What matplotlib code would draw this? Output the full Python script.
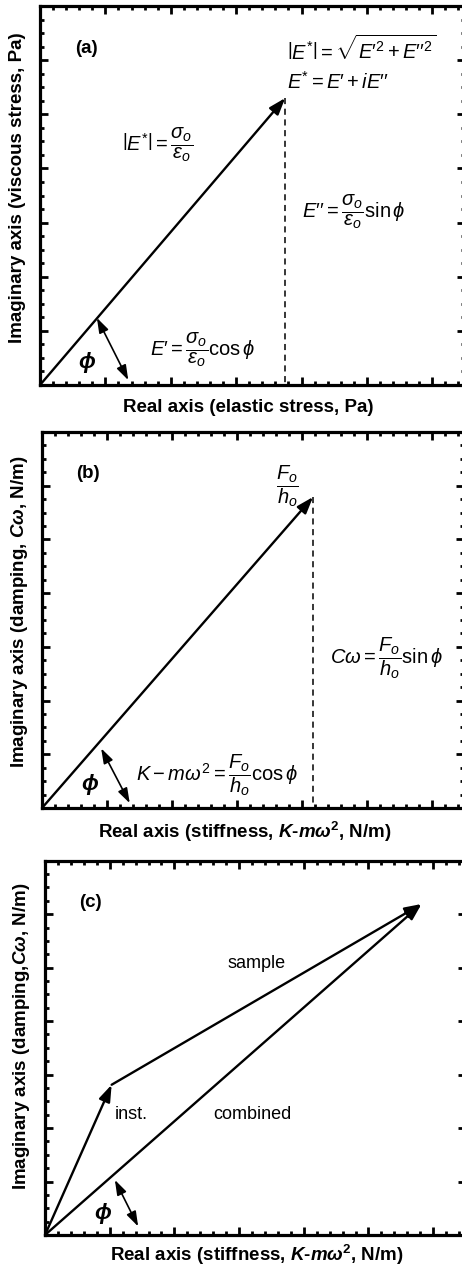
import numpy as np
import matplotlib
matplotlib.use('Agg')
import matplotlib.pyplot as plt
from matplotlib.ticker import MultipleLocator

plt.rcParams['font.family'] = ['Liberation Sans', 'DejaVu Sans']
plt.rcParams['mathtext.fontset'] = 'custom'
plt.rcParams['mathtext.rm'] = 'Liberation Sans'
plt.rcParams['mathtext.it'] = 'Liberation Sans:italic'
plt.rcParams['mathtext.bf'] = 'Liberation Sans:bold'
plt.rcParams['mathtext.bfit'] = 'Liberation Sans:bold:italic'

# vector end points (real, imaginary)
modulus_a = [3.75, 5.30]
force_b = [4.17, 5.79]
inst_c = [1.03, 2.81]
total_c = [5.82, 6.19]

# phase angle markers (start, end)
phi_a = [[0.87, 1.24], [1.35, 0.09]]
phi_b = [[0.91, 1.11], [1.35, 0.09]]
phi_c = [[1.08, 1.03], [1.44, 0.16]]

panel_labels = ['(a)', '(b)', '(c)']
xlabels = ['Real axis (elastic stress, Pa)',
           r'Real axis (stiffness, $\mathbfit{K}$-$\mathbfit{m\omega}^{\mathbf{2}}$, N/m)',
           r'Real axis (stiffness, $\mathbfit{K}$-$\mathbfit{m\omega}^{\mathbf{2}}$, N/m)']
ylabels = ['Imaginary axis (viscous stress, Pa)',
           r'Imaginary axis (damping, $\mathbfit{C\omega}$, N/m)',
           r'Imaginary axis (damping,$\mathbfit{C\omega}$, N/m)']

W, H = 462, 1268
fig = plt.figure(figsize=(W / 100, H / 100), dpi=100)

# axes boxes in pixels: left, top, right, bottom
boxes = [(40, 6, 465, 385), (42, 432, 464.5, 808), (45, 860.7, 465.5, 1235)]
xlab_pos = [(248, 408), (245, 831.7), (257, 1255)]
ylab_pos = [(18, 187.5), (20, 611.5), (22, 1036)]

axes = []
for i, (l, t, r, b) in enumerate(boxes):
    ax = fig.add_axes([l / W, 1 - b / H, (r - l) / W, (b - t) / H])
    ax.set_xlim(0, 6.5)
    ax.set_ylim(0, 7)
    ax.xaxis.set_major_locator(MultipleLocator(1))
    ax.xaxis.set_minor_locator(MultipleLocator(0.2))
    ax.yaxis.set_major_locator(MultipleLocator(1))
    ax.yaxis.set_minor_locator(MultipleLocator(0.25))
    ax.tick_params(which='both', direction='in', top=True, right=True,
                   labelbottom=False, labelleft=False, width=2.0)
    ax.tick_params(which='major', length=5.5)
    ax.tick_params(which='minor', length=3.2)
    for s in ax.spines.values():
        s.set_linewidth(2.3)
    ax.text(0.53, 6.22, panel_labels[i], fontsize=13.5, fontweight='bold', va='center')
    fig.text(xlab_pos[i][0] / W, 1 - xlab_pos[i][1] / H, xlabels[i],
             fontsize=13.5, fontweight='bold', ha='center', va='center')
    fig.text(ylab_pos[i][0] / W, 1 - ylab_pos[i][1] / H, ylabels[i],
             fontsize=13.5, fontweight='bold', ha='center', va='center', rotation=90)
    axes.append(ax)


def vec(ax, start, end):
    ax.annotate('', xy=end, xytext=start,
                arrowprops=dict(arrowstyle='-|>,head_length=1.0,head_width=0.35',
                                mutation_scale=10, lw=1.7, color='k',
                                shrinkA=0, shrinkB=0))


def phi_marker(ax, pts, phi_xy):
    ax.annotate('', xy=pts[1], xytext=pts[0],
                arrowprops=dict(arrowstyle='<|-|>,head_length=0.9,head_width=0.3',
                                mutation_scale=10, lw=1.2, color='k',
                                shrinkA=0, shrinkB=0))
    ax.text(phi_xy[0], phi_xy[1], r'$\mathbfit{\phi}$', fontsize=16,
            ha='center', va='center')


FS = 14.5

# (a) complex modulus
ax = axes[0]
vec(ax, (0, 0), modulus_a)
ax.plot([modulus_a[0], modulus_a[0]], [modulus_a[1], 0], 'k', lw=1.1, ls=(0, (4, 3)))
phi_marker(ax, phi_a, (0.72, 0.42))
ax.text(3.78, 6.2, r'$\left|E^{*}\right| = \sqrt{E{\prime}^{2} + E{\prime\prime}^{2}}$',
        fontsize=FS, va='center')
ax.text(3.78, 5.6, r'$E^{*} = E{\prime} + iE{\prime\prime}$', fontsize=FS, va='center')
ax.text(1.25, 4.45, r'$\left|E^{*}\right| = \dfrac{\sigma_o}{\varepsilon_o}$',
        fontsize=FS, va='center')
ax.text(4.0, 3.2, r'$E{\prime\prime} = \dfrac{\sigma_o}{\varepsilon_o}\sin\phi$',
        fontsize=FS, va='center')
ax.text(1.68, 0.66, r'$E{\prime} = \dfrac{\sigma_o}{\varepsilon_o}\cos\phi$',
        fontsize=FS, va='center')

# (b) forced oscillator
ax = axes[1]
vec(ax, (0, 0), force_b)
ax.plot([force_b[0], force_b[0]], [force_b[1], 0], 'k', lw=1.1, ls=(0, (4, 3)))
phi_marker(ax, phi_b, (0.74, 0.43))
ax.text(3.77, 6.0, r'$\dfrac{F_o}{h_o}$', fontsize=FS, ha='center', va='center')
ax.text(4.43, 2.79, r'$C\omega = \dfrac{F_o}{h_o}\sin\phi$', fontsize=FS, va='center')
ax.text(1.45, 0.61, r'$K - m\omega^2 = \dfrac{F_o}{h_o}\cos\phi$', fontsize=FS, va='center')

# (c) instrument + sample
ax = axes[2]
vec(ax, (0, 0), inst_c)
vec(ax, inst_c, total_c)
vec(ax, (0, 0), total_c)
phi_marker(ax, phi_c, (0.9, 0.41))
ax.text(3.27, 5.07, 'sample', fontsize=13, ha='center', va='center')
ax.text(1.34, 2.25, 'inst.', fontsize=13, ha='center', va='center')
ax.text(3.2, 2.25, 'combined', fontsize=13, ha='center', va='center')

fig.savefig('out.png', dpi=100)
